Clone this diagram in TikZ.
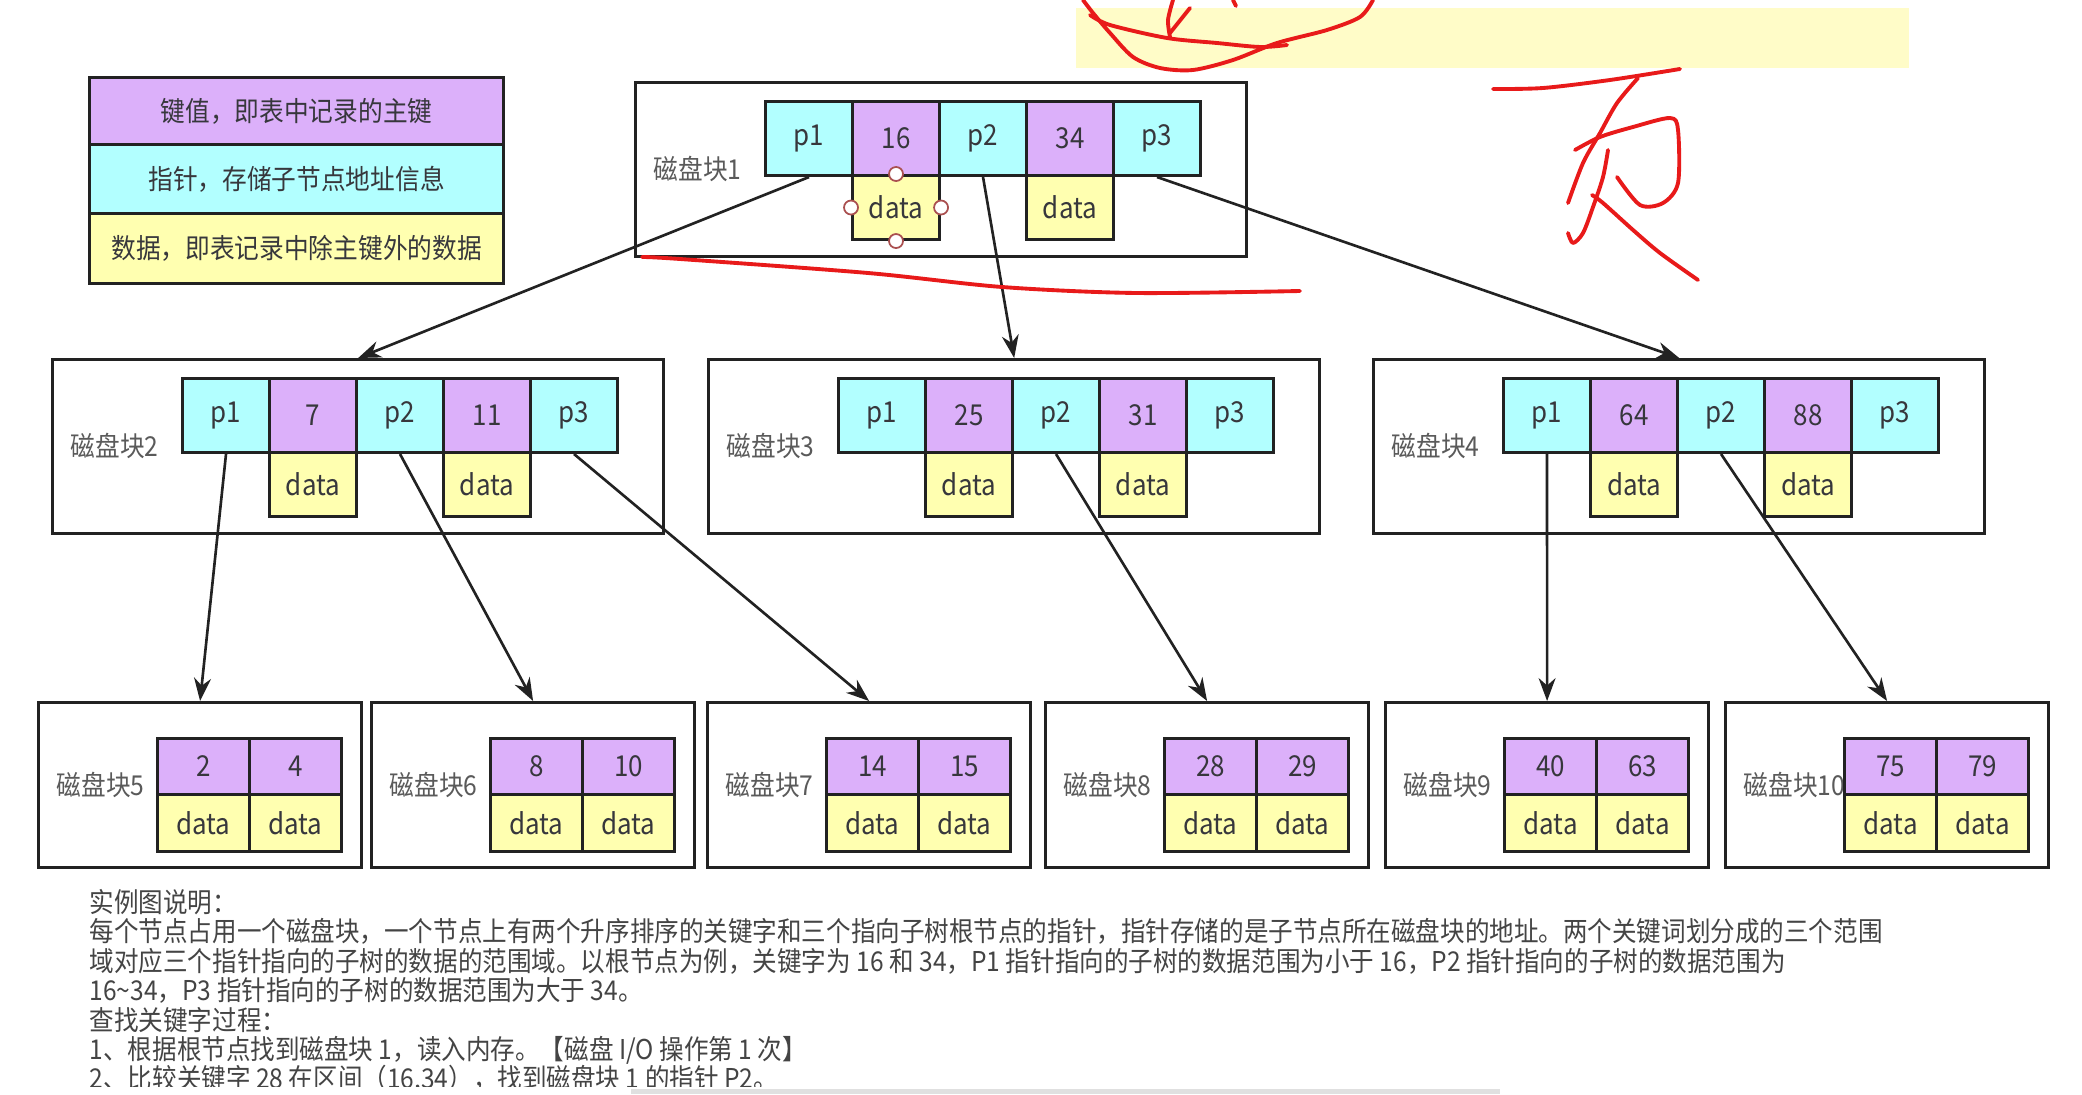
\documentclass[tikz,border=0pt]{standalone}
\usepackage{fontspec}
\setmainfont[FakeStretch=0.9]{Noto Sans CJK SC}
\usetikzlibrary{arrows.meta}
\definecolor{keyc}{RGB}{220,176,250}
\definecolor{ptrc}{RGB}{178,255,255}
\definecolor{datc}{RGB}{255,255,176}
\definecolor{linec}{RGB}{34,34,34}
\definecolor{txtc}{RGB}{55,55,60}
\definecolor{lblc}{RGB}{90,90,90}
\definecolor{notec}{RGB}{68,68,68}
\definecolor{penc}{RGB}{232,26,26}
\definecolor{bandc}{RGB}{255,252,200}
\definecolor{handlec}{RGB}{170,80,80}
\newcommand{\cellfont}{\fontsize{8.2}{9}\selectfont}
\newcommand{\lblfont}{\fontsize{7.8}{9}\selectfont}
\newcommand{\notefont}{\fontsize{7.76}{9}\selectfont}

\tikzset{
  cell/.style={draw=linec, line width=0.85pt, minimum width=0.87cm, minimum height=0.74cm,
    inner sep=0pt, anchor=north west, text=txtc, font=\cellfont},
  ptr/.style={cell, fill=ptrc},
  key/.style={cell, fill=keyc},
  dat/.style={cell, fill=datc, minimum height=0.64cm},
  leafkey/.style={cell, fill=keyc, minimum width=0.92cm, minimum height=0.56cm},
  leafdat/.style={cell, fill=datc, minimum width=0.92cm, minimum height=0.57cm},
  disk/.style={draw=linec, line width=0.85pt, anchor=north west, inner sep=0pt},
  disklabel/.style={anchor=west, inner sep=0pt, text=lblc, font=\lblfont},
  link/.style={draw=linec, line width=0.75pt, -{Stealth[length=6.5pt,width=4.8pt]}},
  legend/.style={draw=linec, line width=0.85pt, minimum width=4.14cm, inner sep=0pt,
    anchor=north west, text=txtc, font=\lblfont},
  note/.style={anchor=west, inner sep=0pt, text=notec, font=\notefont},
  redpen/.style={draw=penc, line width=1.1pt, line cap=round, line join=round},
  handle/.style={circle, draw=handlec, fill=white, line width=0.5pt, minimum size=0.14cm, inner sep=0pt}
}

% inner disk block: name, number, cells x, cells y, key1, key2
\newcommand{\diskblock}[6]{%
  \node[disk, minimum width=6.11cm, minimum height=1.74cm] (#1) at ({#3-130},{#4-19}) {};
  \node[disklabel] at ({#3-111},{#4+69}) {磁盘块#2};
  \node[ptr] (#1p1) at (#3,#4) {p1};
  \node[key] (#1k1) at ({#3+87},#4) {#5};
  \node[ptr] (#1p2) at ({#3+174},#4) {p2};
  \node[key] (#1k2) at ({#3+261},#4) {#6};
  \node[ptr] (#1p3) at ({#3+348},#4) {p3};
  \node[dat] (#1d1) at ({#3+87},{#4+74}) {data};
  \node[dat] (#1d2) at ({#3+261},{#4+74}) {data};
}
% leaf disk block: name, number, box x, key1, key2
\newcommand{\leafblock}[5]{%
  \node[disk, minimum width=3.23cm, minimum height=1.65cm] (#1) at (#3,701) {};
  \node[disklabel] at ({#3+19},785) {磁盘块#2};
  \node[leafkey] (#1k1) at ({#3+119},737) {#4};
  \node[leafkey] (#1k2) at ({#3+211},737) {#5};
  \node[leafdat] (#1d1) at ({#3+119},793) {data};
  \node[leafdat] (#1d2) at ({#3+211},793) {data};
}

\begin{document}
\begin{tikzpicture}[x=0.01cm, y=-0.01cm]
  \fill[white] (0,0) rectangle (2082,1094);
  \useasboundingbox (0,0) rectangle (2082,1094);

  % highlighted band at the top
  \fill[bandc] (1076,8) rectangle (1909,68);

  % legend
  \node[legend, fill=keyc, minimum height=0.67cm] (lkey) at (88,76) {键值，即表中记录的主键};
  \node[legend, fill=ptrc, minimum height=0.69cm] (lptr) at (88,143) {指针，存储子节点地址信息};
  \node[legend, fill=datc, minimum height=0.70cm] (ldat) at (88,212) {数据，即表记录中除主键外的数据};

  % root and second level
  \diskblock{b1}{1}{764}{100}{16}{34}
  \diskblock{b2}{2}{181}{377}{7}{11}
  \diskblock{b3}{3}{837}{377}{25}{31}
  \diskblock{b4}{4}{1502}{377}{64}{88}

  % leaves
  \leafblock{b5}{5}{37}{2}{4}
  \leafblock{b6}{6}{370}{8}{10}
  \leafblock{b7}{7}{706}{14}{15}
  \leafblock{b8}{8}{1044}{28}{29}
  \leafblock{b9}{9}{1384}{40}{63}
  \leafblock{b10}{10}{1724}{75}{79}

  % selection handles on the first data cell
  \node[handle] at (b1d1.north) {};
  \node[handle] at (b1d1.west) {};
  \node[handle] at (b1d1.east) {};
  \node[handle] at (b1d1.south) {};

  % pointers
  \draw[link] (b1p1.south) -- (b2.north);
  \draw[link] (b1p2.south) -- (b3.north);
  \draw[link] (b1p3.south) -- (b4.north);
  \draw[link] (b2p1.south) -- (b5.north);
  \draw[link] (b2p2.south) -- (b6.north);
  \draw[link] (b2p3.south) -- (b7.north);
  \draw[link] (b3p2.south) -- (b8.north);
  \draw[link] (b4p1.south) -- (b9.north);
  \draw[link] (b4p2.south) -- (b10.north);

  % explanation
  \node[note] (n1) at (89,902) {实例图说明：};
  \node[note] (n2) at (89,931.6) {每个节点占用一个磁盘块，一个节点上有两个升序排序的关键字和三个指向子树根节点的指针，指针存储的是子节点所在磁盘块的地址。两个关键词划分成的三个范围};
  \node[note] (n3) at (89,961.2) {域对应三个指针指向的子树的数据的范围域。以根节点为例，关键字为 16 和 34，P1 指针指向的子树的数据范围为小于 16，P2 指针指向的子树的数据范围为};
  \node[note] (n4) at (89,990.8) {16\textasciitilde34，P3 指针指向的子树的数据范围为大于 34。};
  \node[note] (n5) at (89,1020.4) {查找关键字过程：};
  \node[note] (n6) at (89,1050) {1、根据根节点找到磁盘块 1，读入内存。【磁盘 I/O 操作第 1 次】};
  \node[note] (n7) at (89,1079.6) {2、比较关键字 28 在区间（16,34），找到磁盘块 1 的指针 P2。};
  \fill[white] (0,1087) rectangle (2082,1094);
  \fill[black!12] (631,1089) rectangle (1500,1094);

  % red pen marks
  \draw[redpen] plot[smooth] coordinates {(642,257) (680,259) (868,273) (1002,287) (1136,293) (1300,291)};
  \draw[redpen] plot[smooth] coordinates {(1083,0) (1093,13) (1110,33) (1133,57) (1160,68) (1193,70) (1233,60) (1277,43) (1327,30) (1360,17) (1373,0)};
  \draw[redpen] plot[smooth] coordinates {(1090,15) (1110,25) (1167,38) (1217,43) (1260,47) (1287,45)};
  \draw[redpen] plot[smooth] coordinates {(1170,37) (1168,20) (1173,0)};
  \draw[redpen] (1170,33) -- (1190,8);
  \draw[redpen] (1233,0) -- (1236,6);
  \draw[redpen] plot[smooth] coordinates {(1493,89) (1543,88) (1610,80) (1680,69)};
  \draw[redpen] plot[smooth] coordinates {(1638,78) (1617,103) (1600,133) (1583,163) (1568,203)};
  \draw[redpen] plot[smooth] coordinates {(1575,150) (1600,137) (1633,127) (1670,118) (1678,130) (1678,183) (1663,203) (1640,205) (1617,177)};
  \draw[redpen] plot[smooth] coordinates {(1608,150) (1603,177) (1593,207) (1583,233) (1573,243) (1568,233)};
  \draw[redpen] plot[smooth] coordinates {(1592,195) (1603,203) (1633,230) (1660,253) (1698,280)};
\end{tikzpicture}
\end{document}
